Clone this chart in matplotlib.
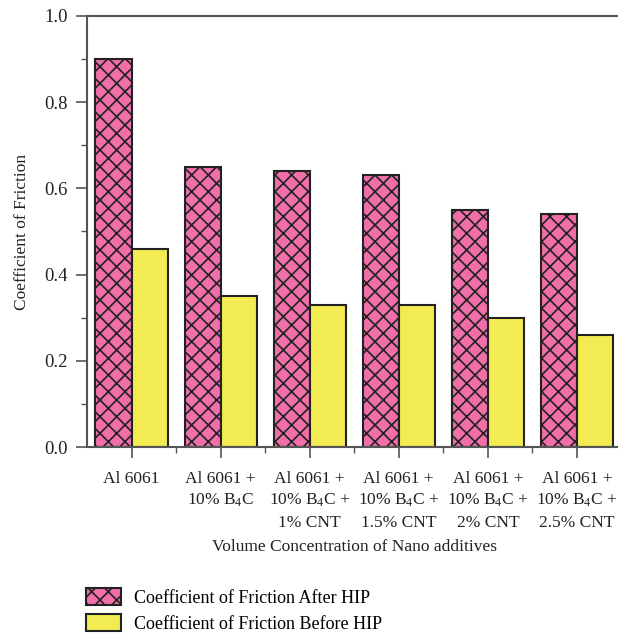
import numpy as np
import matplotlib
matplotlib.use("Agg")
import matplotlib.pyplot as plt
from matplotlib.patches import Patch
from matplotlib.ticker import MultipleLocator, FormatStrFormatter

plt.rcParams["font.family"] = "Liberation Serif"
plt.rcParams["mathtext.fontset"] = "custom"
plt.rcParams["mathtext.rm"] = "Liberation Serif"
plt.rcParams["mathtext.default"] = "regular"
plt.rcParams["hatch.linewidth"] = 1.2

categories = [
    "Al 6061",
    "Al 6061 +\n10% B$_4$C",
    "Al 6061 +\n10% B$_4$C +\n1% CNT",
    "Al 6061 +\n10% B$_4$C +\n1.5% CNT",
    "Al 6061 +\n10% B$_4$C +\n2% CNT",
    "Al 6061 +\n10% B$_4$C +\n2.5% CNT",
]
cof_after_hip = [0.90, 0.65, 0.64, 0.63, 0.55, 0.54]
cof_before_hip = [0.46, 0.35, 0.33, 0.33, 0.30, 0.26]
series_labels = ["Coefficient of Friction After HIP", "Coefficient of Friction Before HIP"]

pink = "#f06fa9"
yellow = "#f2ec52"
edge = "#222222"
axis_grey = "#555555"
text_col = "#222222"
fs = 12.5

fig = plt.figure(figsize=(6.18, 6.35), dpi=100)
ax = fig.add_axes([87 / 618, 188 / 635, 534.5 / 618, 431 / 635])

x = np.arange(len(categories))
w = 0.405
ax.bar(x - w / 2, cof_after_hip, w, color=pink, edgecolor=edge, hatch="xx", linewidth=1.5)
ax.bar(x + w / 2, cof_before_hip, w, color=yellow, edgecolor=edge, linewidth=1.5)

ax.set_xlim(-0.5, 5.5)
ax.set_ylim(0, 1.0)
ax.yaxis.set_major_locator(MultipleLocator(0.2))
ax.yaxis.set_minor_locator(MultipleLocator(0.1))
ax.yaxis.set_major_formatter(FormatStrFormatter("%.1f"))
ax.set_xticks(x)
ax.set_xticks(x[:-1] + 0.5, minor=True)
ax.set_xticklabels(categories, fontsize=fs, linespacing=1.42)
ax.tick_params(axis="y", labelsize=13.5, colors=text_col)
ax.tick_params(axis="x", colors=text_col)
ax.tick_params(which="major", direction="out", length=8, width=1.2, color=axis_grey, pad=6)
ax.tick_params(which="minor", direction="out", length=4, width=1.0, color=axis_grey)
ax.tick_params(axis="x", which="major", pad=9)

for side in ["left", "bottom", "top"]:
    ax.spines[side].set_color(axis_grey)
    ax.spines[side].set_linewidth(1.5)
ax.spines["right"].set_visible(False)

ax.set_ylabel("Coefficient of Friction", fontsize=fs, color=text_col, labelpad=10)
ax.set_xlabel("Volume Concentration of Nano additives", fontsize=fs, color=text_col, labelpad=6)

handles = [
    Patch(facecolor=pink, edgecolor=edge, hatch="xx", linewidth=1.5),
    Patch(facecolor=yellow, edgecolor=edge, linewidth=1.5),
]
fig.legend(handles, series_labels, loc="upper left", bbox_to_anchor=(86 / 618, 1 - 588 / 635),
           frameon=False, fontsize=13, borderpad=0, borderaxespad=0,
           handlelength=1.95, handleheight=1.05, handletextpad=0.7, labelspacing=0.42)

fig.savefig("out.png", dpi=100)
